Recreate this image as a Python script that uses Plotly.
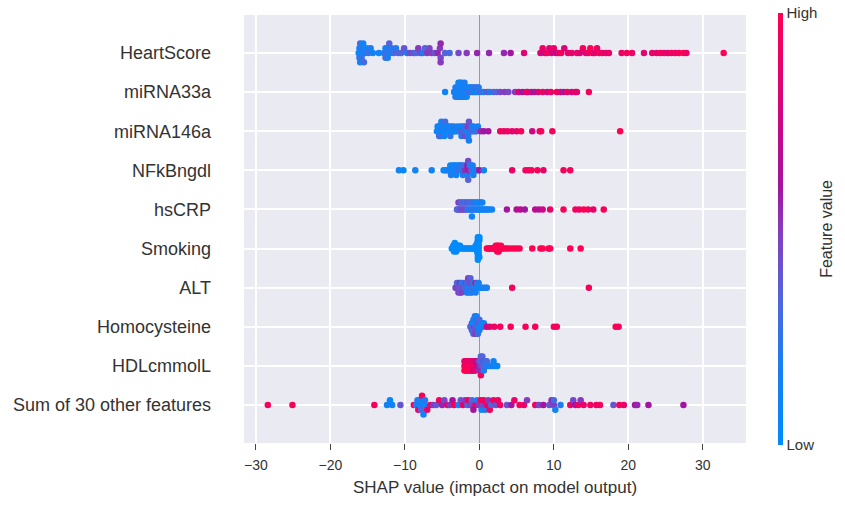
import numpy as np
import plotly.graph_objects as go

features = ["HeartScore", "miRNA33a", "miRNA146a", "NFkBngdl", "hsCRP", "Smoking",
            "ALT", "Homocysteine", "HDLcmmolL", "Sum of 30 other features"]

# (SHAP value, normalised feature value 0=Low .. 1=High)
heartscore = [(-16.2,.10),(-16.1,.05),(-16.1,.25),(-16.0,.30),(-16.0,.10),(-15.9,.10),(-15.9,.20),(-15.8,.25),
              (-15.6,.10),(-15.5,.30),(-15.3,.15),(-15.1,.10),(-14.9,.30),(-14.6,.20),(-14.3,.10),(-13.5,.10),
              (-12.8,.20),(-12.6,.10),(-12.6,.30),(-12.5,.30),(-12.4,.15),(-12.3,.15),(-12.1,.35),(-12.0,.10),
              (-11.8,.25),(-11.5,.30),(-11.2,.20),(-10.9,.35),
              (-10.5,.35),(-10.1,.40),(-9.7,.20),(-9.3,.45),(-8.8,.40),(-8.5,.30),(-8.2,.50),(-7.9,.45),
              (-7.6,.20),(-7.3,.35),(-7.0,.50),(-6.7,.45),(-6.4,.50),(-6.0,.40),(-5.6,.55),(-5.3,.50),
              (-5.2,.45),(-5.2,.55),(-5.2,.50),
              (-4.6,.35),(-4.0,.30),(-2.8,.45),(-1.7,.50),(-0.3,.55),(1.3,.55),(3.3,.55),(4.2,.60),(6.0,.85),
              (8.2,.80),(8.5,.90),(8.8,.75),(9.1,.95),(9.4,.85),(9.7,.80),(10.0,.90),(10.3,.70),(10.6,.85),
              (11.0,.95),(11.4,.80),(11.9,.90),(12.4,.85),
              (13.1,.90),(13.5,.80),(13.9,.95),(14.3,.85),(14.6,.90),(14.9,1.0),(15.2,.95),(15.5,.85),
              (15.8,.90),(16.1,.95),(16.5,.90),(17.0,.85),(17.4,.90),
              (19.1,.90),(19.8,.95),(20.5,.90),(22.1,.85),
              (23.2,.90),(23.8,.85),(24.3,.95),(24.8,.90),(25.3,.85),(25.8,.95),(26.3,.90),(26.8,.95),
              (27.4,1.0),(27.8,.90),(32.8,1.0)]

mirna33a = [(-4.6,.10),
            (-3.4,.10),(-3.3,.15),(-3.2,.10),(-3.2,.20),(-3.1,.05),(-3.0,.10),(-3.0,.20),(-2.9,.10),(-2.9,.30),
            (-2.8,.10),(-2.8,.05),(-2.7,.15),(-2.7,.10),(-2.6,.20),(-2.6,.10),(-2.5,.05),(-2.5,.10),(-2.4,.25),
            (-2.4,.10),(-2.3,.10),(-2.3,.15),(-2.2,.10),(-2.1,.30),(-2.1,.10),(-2.0,.10),(-2.0,.20),(-1.9,.05),
            (-1.8,.10),(-1.8,.20),(-1.7,.10),(-1.6,.15),(-1.5,.10),(-1.4,.30),(-1.3,.10),(-1.2,.20),(-1.1,.10),
            (-1.0,.35),(-0.9,.10),(-0.8,.20),(-0.7,.30),(-0.6,.10),(-0.5,.25),(-0.4,.15),(-0.3,.30),(-0.2,.10),
            (-0.1,.20),
            (0.2,.30),(0.6,.20),(1.1,.40),(1.4,.20),(1.9,.30),(2.3,.35),(2.8,.45),
            (3.4,.50),(3.9,.45),(4.8,.50),
            (5.3,.80),(5.8,.60),(6.3,.85),(6.5,.90),(7.0,.75),(7.4,.60),(7.9,.85),(8.5,.90),
            (9.1,.80),(9.6,.90),(10.4,.95),(10.9,.85),(11.3,.60),(11.8,.90),(12.4,.80),(12.9,.95),
            (13.1,.85),(14.7,.95)]

mirna146a = [(-5.7,.10),(-5.6,.15),(-5.5,.10),(-5.5,.05),(-5.4,.20),(-5.3,.10),(-5.2,.10),(-5.2,.30),(-5.1,.10),
             (-5.0,.15),(-4.9,.10),(-4.8,.05),(-4.8,.20),(-4.7,.10),(-4.6,.30),(-4.5,.10),(-4.4,.15),(-4.3,.10),
             (-4.2,.20),(-4.1,.10),(-4.0,.10),(-3.9,.25),(-3.8,.10),(-3.7,.15),(-3.5,.10),(-3.4,.20),(-3.3,.10),
             (-3.1,.10),
             (-2.9,.15),(-2.7,.10),(-2.6,.30),(-2.5,.10),(-2.4,.20),(-2.3,.40),(-2.2,.10),(-2.1,.30),(-2.0,.15),
             (-1.9,.45),(-1.8,.20),(-1.7,.35),(-1.6,.10),(-1.5,.50),(-1.5,.20),(-1.4,.40),(-1.4,.15),(-1.3,.30),
             (-1.2,.45),(-1.1,.20),(-1.0,.10),(-0.9,.35),(-0.8,.20),(-0.6,.15),(-0.4,.30),(-0.2,.10),
             (0.2,.55),(0.6,.60),(1.2,.60),
             (2.8,.95),(3.3,.90),(3.8,.95),(4.4,.85),(5.0,.90),(5.6,.95),(7.1,.75),(8.1,.90),(8.3,.95),(9.8,.95),
             (18.9,1.0)]

nfkbngdl = [(-10.8,.10),(-10.2,.05),(-8.6,.10),(-6.4,.10),
            (-4.8,.10),(-4.6,.05),(-4.4,.10),(-4.2,.15),(-4.0,.10),(-3.9,.05),(-3.8,.20),(-3.7,.10),(-3.6,.10),
            (-3.5,.15),(-3.4,.05),(-3.3,.10),(-3.2,.20),(-3.1,.10),(-3.0,.15),(-2.9,.10),(-2.8,.25),(-2.7,.10),
            (-2.6,.30),(-2.5,.15),(-2.4,.10),(-2.3,.35),(-2.2,.20),(-2.1,.40),(-2.0,.15),(-1.9,.50),(-1.8,.30),
            (-1.7,.55),(-1.6,.60),(-1.6,.20),(-1.5,.45),(-1.5,.35),(-1.4,.60),(-1.3,.25),(-1.2,.50),(-1.1,.10),
            (-1.0,.30),(-0.9,.20),(-0.8,.15),(-0.6,.10),(-0.4,.20),(-0.2,.10),(0.0,.60),
            (0.6,.10),
            (4.4,.90),(6.2,.95),(6.6,.90),(7.0,1.0),(7.8,.95),(8.6,.90),(11.3,.95),(12.2,.95)]

hscrp = [(-3.0,.40),(-2.9,.35),(-2.8,.50),(-2.7,.30),(-2.6,.45),(-2.5,.40),(-2.4,.30),(-2.3,.50),(-2.2,.35),
         (-2.1,.40),(-2.0,.30),(-1.9,.45),(-1.8,.20),(-1.7,.35),(-1.6,.40),(-1.5,.25),(-1.4,.30),(-1.3,.15),
         (-1.2,.35),(-1.1,.20),(-1.0,.30),(-1.0,.10),(-0.9,.25),(-0.8,.10),(-0.7,.20),(-0.6,.30),(-0.5,.15),
         (-0.4,.10),(-0.3,.20),(-0.2,.10),(-0.1,.15),(0.0,.10),(0.1,.20),(0.2,.10),(0.3,.05),(0.4,.15),
         (0.5,.10),(0.7,.10),(0.9,.20),(1.1,.10),(1.4,.15),(1.7,.10),
         (3.7,.60),(5.0,.65),(5.5,.70),(6.1,.60),
         (7.5,.70),(8.0,.65),(8.5,.75),(9.5,.90),
         (11.3,.95),
         (12.9,.95),(13.4,.90),(14.0,1.0),(14.6,.95),(15.3,.90),
         (16.7,.95)]

smoking = [(-3.7,0),(-3.6,0),(-3.5,0),(-3.4,0),(-3.4,0),(-3.4,0),(-3.3,0),(-3.2,0),(-3.2,0),(-3.1,0),
           (-3.0,0),(-3.0,0),(-2.9,0),(-2.8,0),(-2.7,0),(-2.6,0),(-2.4,0),(-2.2,0),(-2.0,0),(-1.8,0),
           (-1.6,0),(-1.4,0),(-1.2,0),(-1.0,0),(-0.8,0),(-0.6,0),(-0.5,0),(-0.4,0),
           (-0.3,0),(-0.3,0),(-0.3,0),(-0.3,0),(-0.2,0),(-0.2,0),(-0.2,0),(-0.2,0),(-0.2,0),
           (-0.1,0),(-0.1,0),(-0.1,0),(-0.1,0),(-0.1,0),(0.0,0),(0.0,0),(0.0,0),
           (1.0,1),(1.2,1),(1.4,1),(1.5,1),(1.7,1),(1.8,1),(2.0,1),(2.1,1),(2.2,1),(2.3,1),(2.4,1),(2.4,1),
           (2.5,1),(2.6,1),(2.6,1),(2.8,1),(2.9,1),(3.0,1),(3.2,1),(3.5,1),(3.8,1),(4.2,1),(4.6,1),(5.0,1),
           (5.4,1),
           (7.1,1),(8.2,1),(8.5,1),(9.3,1),(9.5,1),(12.2,1),(13.6,1)]

alt = [(-3.2,.40),(-3.1,.50),(-3.0,.35),(-2.9,.45),(-2.8,.30),(-2.8,.50),(-2.7,.40),(-2.6,.55),(-2.6,.30),
       (-2.5,.40),(-2.4,.20),(-2.4,.50),(-2.3,.35),(-2.2,.45),(-2.1,.20),(-2.0,.40),(-1.9,.30),(-1.8,.10),
       (-1.8,.45),(-1.7,.20),(-1.6,.35),(-1.6,.10),(-1.5,.25),(-1.5,.50),(-1.4,.10),(-1.4,.30),(-1.3,.20),
       (-1.3,.40),(-1.2,.10),(-1.2,.35),(-1.1,.15),(-1.1,.45),(-1.0,.20),(-0.9,.30),(-0.8,.10),(-0.7,.35),
       (-0.6,.20),(-0.5,.95),(-0.5,.15),(-0.4,.10),(-0.3,.25),(-0.2,.10),(-0.1,.20),(0.1,.10),(0.3,.15),
       (0.5,.10),(0.8,.10),(1.0,.15),
       (4.4,.95),(14.7,.95)]

homocysteine = [(-1.2,.40),(-1.1,.30),(-1.0,.45),(-1.0,.20),(-0.9,.35),(-0.9,.10),(-0.8,.40),(-0.8,.15),
                (-0.8,.30),(-0.7,.50),(-0.7,.20),(-0.7,.35),(-0.6,.10),(-0.6,.45),(-0.6,.25),(-0.5,.30),
                (-0.5,.15),(-0.5,.40),(-0.4,.20),(-0.4,.50),(-0.4,.10),(-0.3,.35),(-0.3,.15),(-0.3,.45),
                (-0.2,.20),(-0.2,.30),(-0.1,.10),(-0.1,.40),(0.0,.15),(0.0,.35),(0.1,.10),(0.2,.20),(0.3,.10),
                (0.5,.15),(0.6,.10),
                (1.0,.75),(1.4,.85),(2.0,.90),(2.8,.95),
                (4.2,.95),(6.2,.95),(7.5,.95),(10.0,.95),(10.4,.95),(18.3,1.0),(18.7,.95)]

hdlcmmoll = [(-2.0,.95),(-2.0,.90),(-2.0,1.0),(-1.85,.95),(-1.85,.90),(-1.85,1.0),(-1.7,.95),(-1.7,.90),
             (-1.7,1.0),(-1.55,.95),(-1.55,.90),(-1.55,1.0),(-1.4,.95),(-1.4,.85),(-1.4,1.0),(-1.25,.95),
             (-1.25,.90),(-1.25,1.0),(-1.1,.95),(-1.1,.90),(-1.1,1.0),(-0.95,.95),(-0.95,.85),(-0.95,1.0),
             (-0.8,.95),(-0.8,.90),(-0.8,.80),(-0.65,.95),(-0.65,.90),(-0.65,.75),(-0.5,.90),(-0.5,.70),
             (-0.5,.95),(-0.35,.85),(-0.35,.65),(-0.2,.60),(-0.2,.90),
             (0.0,.55),(0.0,.40),(0.0,.50),(0.2,.45),(0.2,.35),(0.2,.55),(0.2,.30),(0.2,.95),
             (0.4,.40),(0.4,.25),(0.4,.50),(0.4,.35),(0.6,.30),(0.6,.45),(0.6,.20),(0.8,.35),(0.8,.25),
             (1.0,.20),(1.0,.30),(1.3,.15),(1.6,.10),(1.9,.15),(1.9,.10),(2.2,.10),(2.4,.05)]

other30 = [(-28.4,.95),(-25.1,.95),(-14.1,.95),(-12.4,.10),(-12.0,.05),(-11.7,.10),(-10.6,.40),
           (-8.8,.95),(-8.5,.10),(-8.3,.20),(-8.2,.90),(-8.0,.15),(-7.9,.10),(-7.8,.30),(-7.7,.95),(-7.5,.10),
           (-7.4,.10),(-7.3,.20),(-7.0,.90),
           (-6.6,.95),(-6.2,.50),(-5.8,.40),(-5.4,.95),(-5.0,.55),(-4.7,.45),(-4.3,.90),(-4.0,.50),(-3.6,.60),
           (-3.4,.95),
           (-2.8,.10),(-2.5,.40),(-2.2,.90),(-1.9,.50),(-1.6,.30),(-1.5,.95),(-1.2,.45),(-1.0,.35),(-0.8,.60),
           (-0.5,.90),(-0.3,.10),(-0.1,.50),(0.2,.95),(0.3,.10),(0.5,.45),(0.6,.95),(0.8,.20),(1.0,.90),
           (1.2,.50),(1.4,.95),(1.6,.35),(1.9,.95),(2.2,.40),(2.5,.90),(2.8,.95),
           (3.7,.40),(4.3,.60),(4.7,.90),(5.4,.95),(6.0,.90),(6.4,.50),
           (7.5,.95),(8.0,.45),(8.6,.60),(9.4,.40),(9.7,.55),(10.0,.50),(10.0,.30),(10.2,.10),(10.9,.20),
           (12.2,.90),(12.6,.45),(12.9,.60),(13.3,.95),(13.6,.50),(14.0,.90),
           (14.9,.95),(15.7,.90),(16.2,.95),
           (18.0,.40),(18.8,.95),(19.4,.90),
           (20.9,.60),(21.2,.55),(22.7,.60),(27.4,.60)]

rows = [heartscore, mirna33a, mirna146a, nfkbngdl, hscrp, smoking, alt, homocysteine, hdlcmmoll, other30]

x_ticks = [-30, -20, -10, 0, 10, 20, 30]


def swarm_offsets(vals, row_height=0.4, nbins=100):
    v = np.asarray(vals, dtype=float)
    n = len(v)
    quant = np.round(nbins * (v - v.min()) / (v.max() - v.min() + 1e-8))
    inds = np.argsort(quant, kind="stable")
    layer, last = 0, -1
    ys = np.zeros(n)
    for i in inds:
        if quant[i] != last:
            layer = 0
        ys[i] = np.ceil(layer / 2) * ((layer % 2) * 2 - 1)
        layer += 1
        last = quant[i]
    ys *= 0.9 * (row_height / np.max(ys + 1))
    return ys


colorscale = [[0.0, "#008bfb"], [0.2, "#1f7bf0"], [0.35, "#5663da"], [0.5, "#873abd"],
              [0.6, "#a3159f"], [0.75, "#cc0684"], [1.0, "#ff0052"]]

fig = go.Figure()
n_rows = len(features)
for k, (name, data) in enumerate(zip(features, rows)):
    sv = [d[0] for d in data]
    fv = [d[1] for d in data]
    pos = n_rows - 1 - k
    ys = pos + swarm_offsets(sv)
    fig.add_trace(go.Scatter(
        x=sv, y=ys, mode="markers", name=name, showlegend=False,
        marker=dict(size=6.5, color=fv, coloraxis="coloraxis", line=dict(width=0)),
        hoverinfo="x+name"))

font_family = "Liberation Sans, Arial, sans-serif"
fig.update_layout(
    width=845, height=506,
    margin=dict(l=244, r=99, t=15, b=63),
    paper_bgcolor="white",
    plot_bgcolor="#EAEAF2",
    font=dict(family=font_family, color="#333333"),
    coloraxis=dict(
        colorscale=colorscale, cmin=0, cmax=1,
        colorbar=dict(
            x=1.0637, xanchor="left", xpad=0, ypad=0,
            y=0.5, yanchor="middle", len=1.01, lenmode="fraction",
            thickness=5, outlinewidth=0,
            tickvals=[0, 1], ticktext=["Low", "High"], ticks="",
            tickfont=dict(size=15, color="#333333"),
        ),
    ),
    annotations=[dict(
        text="Feature value", xref="paper", yref="paper", x=1.159, y=0.5,
        xanchor="center", yanchor="middle", textangle=-90, showarrow=False,
        font=dict(size=16, color="#333333"),
    )],
    xaxis=dict(
        range=[-31.6, 35.8], tickvals=x_ticks, showgrid=True, gridcolor="white", gridwidth=1.5,
        zeroline=True, zerolinecolor="#999999", zerolinewidth=1,
        ticks="outside", ticklen=6, tickcolor="#444444", tickwidth=1.2,
        ticklabelstandoff=3,
        tickfont=dict(size=14, color="#333333"),
        title=dict(text="SHAP value (impact on model output)", font=dict(size=17, color="#333333"), standoff=9),
        showline=False,
    ),
    yaxis=dict(
        range=[-0.97, 9.97], tickvals=[n_rows - 1 - k for k in range(n_rows)], ticktext=features,
        showgrid=True, gridcolor="white", gridwidth=1.5, zeroline=False,
        ticks="", ticklabelstandoff=32, tickfont=dict(size=18, color="#333333"),
        showline=False,
    ),
)

fig.write_html("out.html")
